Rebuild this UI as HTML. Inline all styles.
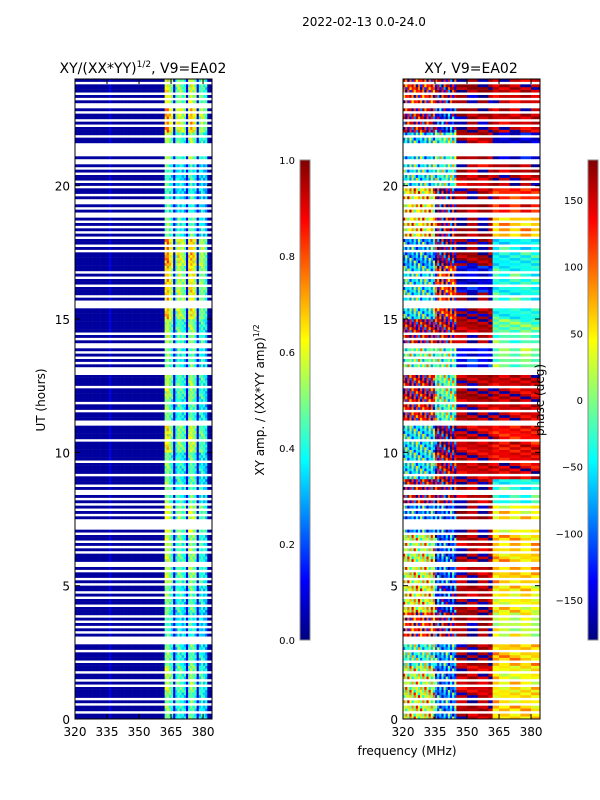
<!DOCTYPE html>
<html><head><meta charset="utf-8"><style>
body{margin:0;background:#fff}
svg{display:block;font-family:"DejaVu Sans","Liberation Sans",sans-serif}
</style></head><body>
<svg id="fig" width="600" height="800" viewBox="0 0 600 800">
<defs>
<linearGradient id="jet" x1="0" y1="1" x2="0" y2="0">
<stop offset="0" stop-color="#000080"/><stop offset="0.125" stop-color="#0000ff"/>
<stop offset="0.375" stop-color="#00ffff"/><stop offset="0.5" stop-color="#80ff80"/>
<stop offset="0.625" stop-color="#ffff00"/><stop offset="0.875" stop-color="#ff0000"/>
<stop offset="1" stop-color="#800000"/>
</linearGradient>
</defs>
<rect width="600" height="800" fill="#fff"/>
<text x="364" y="26" font-size="12" text-anchor="middle">2022-02-13 0.0-24.0</text>
<text x="143" y="73" font-size="14" text-anchor="middle">XY/(XX*YY)<tspan font-size="9" dy="-6">1/2</tspan><tspan dy="6">, V9=EA02</tspan></text>
<text x="471" y="73" font-size="14" text-anchor="middle">XY, V9=EA02</text>
<g id="ampCells"></g>
<g id="phCells"></g>
<g id="axes"></g>
<text x="407" y="755" font-size="12" text-anchor="middle">frequency (MHz)</text>
<text transform="translate(45,400) rotate(-90)" font-size="12" text-anchor="middle">UT (hours)</text>
<rect x="300" y="160" width="10" height="480" fill="url(#jet)" stroke="#888" stroke-width="1"/>
<rect x="588" y="160" width="10" height="480" fill="url(#jet)" stroke="#888" stroke-width="1"/>
<text transform="translate(264,400) rotate(-90)" font-size="12" text-anchor="middle">XY amp. / (XX*YY amp)<tspan font-size="8" dy="-5">1/2</tspan></text>
<text transform="translate(544,400) rotate(-90)" font-size="12" text-anchor="middle">phase (deg)</text>
</svg>
<script>
// ---- data ----
const flagsByHour = ["1101101011","1101011011","1011101100","0101010101","1101101011","0101101001","1101010110","1000010101","0101001011","1011110111","1111011111","0011101101","1111011110","0010101010","0101011111","1111000101","1101101011","1111101011","0101010100","1010010110","1011010100","1000001101","1101011010","0101011101"];
const colAmp = [0.03,0.03,0.03,0.03,0.03,0.03,0.03,0.03,0.03,0.03,0.03,0.03,0.03,0.03,0.03,0.03,0.1,0.03,0.03,0.03,0.03,0.03,0.03,0.03,0.03,0.03,0.03,0.03,0.03,0.03,0.03,0.03,0.03,0.03,0.03,0.03,0.03,0.03,0.03,0.03,0.03,0.03,0.55,0.6,0.5,0.45,0.1,0.4,0.5,0.45,0.42,0.4,0.1,0.5,0.55,0.5,0.45,0.1,0.4,0.45,0.4,0.35,0.03,0.03];
const ampRowScale = [0.9,1.0,0.9,0.8,0.9,1.0,1.0,1.1,0.9,0.9,1.1,0.9,1.0,0.9,1.0,1.2,1.2,1.3,0.9,0.8,0.8,1.0,1.3,1.1];
const ampJitter = [0, -0.06, 0.04, -0.08, 0.07, 0.02, -0.04];
const phA = [20,10,-40,120,30,20,10,-100,150,-60,-60,130,140,-20,150,-60,-60,-90,40,40,-60,-70,150,120];
const phB = [-100,-110,-90,160,-150,-120,-120,-120,160,150,170,-30,-20,-30,150,120,110,170,160,170,-40,-30,-150,160];
const phC = [160,150,170,170,160,160,160,165,160,150,150,160,165,-140,160,170,-150,170,170,165,150,160,170,175];
const phD = [50,40,60,20,40,60,55,40,-40,140,130,150,150,-10,-20,-40,-40,-50,60,120,160,-160,150,150];
const phJitter = [0, 40, -30, 70, -15, 120, 20, -60, 10];
const yTicks = [0,5,10,15,20];
const xTicks = [320,335,350,365,380];
const ampCbTicks = [0.0,0.2,0.4,0.6,0.8,1.0];
const phCbTicks = [-150,-100,-50,0,50,100,150];

// ---- scales ----
const NS="http://www.w3.org/2000/svg";
const Y0=719, Y1=79, T0=0, T1=24;
const yS = h => Y0 - (h-T0)/(T1-T0)*(Y0-Y1);
const F0=320, F1=384.2, PW=137;
const xS = (x0,f) => x0 + (f-F0)/(F1-F0)*PW;
const cbY = v => 640 - v*480;
function jet(v){v=Math.max(0,Math.min(1,v));const c=t=>Math.round(255*Math.max(0,Math.min(1,1.5-Math.abs(4*v-t))));return `rgb(${c(3)},${c(2)},${c(1)})`;}
function mk(tag,attrs,parent){const e=document.createElementNS(NS,tag);for(const k in attrs)e.setAttribute(k,attrs[k]);parent.appendChild(e);return e;}

const ampG=document.getElementById('ampCells'), phG=document.getElementById('phCells'), ax=document.getElementById('axes');
const dt=0.1;
for(let h=0;h<24;h++){
  for(let k=0;k<10;k++){
    if(flagsByHour[h][k]!=='1') continue;
    const t=h+k*dt, r=h*10+k;
    const ya=yS(t+dt), hh=yS(t)-yS(t+dt);
    for(let c=0;c<colAmp.length;c++){
      const f=F0+c;
      let a=colAmp[c];
      if(a>0.2) a=a*ampRowScale[h]+ampJitter[(r+c)%ampJitter.length];
      const xa=xS(75,f), w=xS(75,f+1)-xa;
      const e=mk('rect',{x:xa.toFixed(2),y:ya.toFixed(2),width:(w+0.3).toFixed(2),height:(hh+0.2).toFixed(2),fill:jet(a)},ampG);
      
      
      let p = f<335?phA[h]:f<345?phB[h]:f<362?phC[h]:phD[h];
      const jIdx = f<345 ? (r*2+c) : (r+Math.floor(c/5));
      p += phJitter[jIdx%phJitter.length]*(f<345?1:0.35);
      p = ((p+180)%360+360)%360-180;
      const xp=xS(403,f);
      const e2=mk('rect',{x:xp.toFixed(2),y:ya.toFixed(2),width:(w+0.3).toFixed(2),height:(hh+0.2).toFixed(2),fill:jet((p+180)/360)},phG);
      
      
    }
  }
}
// axes
[75,403].forEach((x0,pi)=>{
  const fr=mk('rect',{x:x0,y:Y1,width:PW,height:Y0-Y1,fill:'none',stroke:'#000','stroke-width':1},ax);
  
  
  yTicks.forEach(v=>{
    const y=yS(v);
    mk('line',{x1:x0,x2:x0+5,y1:y,y2:y,stroke:'#000'},ax);
    mk('line',{x1:x0+PW,x2:x0+PW-5,y1:y,y2:y,stroke:'#000'},ax);
    const t=mk('text',{x:x0-5,y:y+5,'font-size':12,'text-anchor':'end'},ax);
    t.textContent=v;
    
    
  });
  xTicks.forEach(v=>{
    const x=xS(x0,v);
    mk('line',{x1:x,x2:x,y1:Y0,y2:Y0-5,stroke:'#000'},ax);
    mk('line',{x1:x,x2:x,y1:Y1,y2:Y1+5,stroke:'#000'},ax);
    const t=mk('text',{x:x,y:Y0+17,'font-size':12,'text-anchor':'middle'},ax);
    t.textContent=v;
    
    
  });
});
ampCbTicks.forEach(v=>{
  const y=cbY(v);
  mk('line',{x1:300,x2:304,y1:y,y2:y,stroke:'#000'},ax);
  mk('line',{x1:310,x2:306,y1:y,y2:y,stroke:'#000'},ax);
  const t=mk('text',{x:295,y:y+4,'font-size':10,'text-anchor':'end'},ax);
  t.textContent=v.toFixed(1);
  
  
});
phCbTicks.forEach(v=>{
  const y=cbY((v+180)/360);
  mk('line',{x1:588,x2:592,y1:y,y2:y,stroke:'#000'},ax);
  mk('line',{x1:598,x2:594,y1:y,y2:y,stroke:'#000'},ax);
  const t=mk('text',{x:583,y:y+4,'font-size':10,'text-anchor':'end'},ax);
  t.textContent=v<0?'\u2212'+Math.abs(v):v;
  
  
});
</script>
</body></html>
